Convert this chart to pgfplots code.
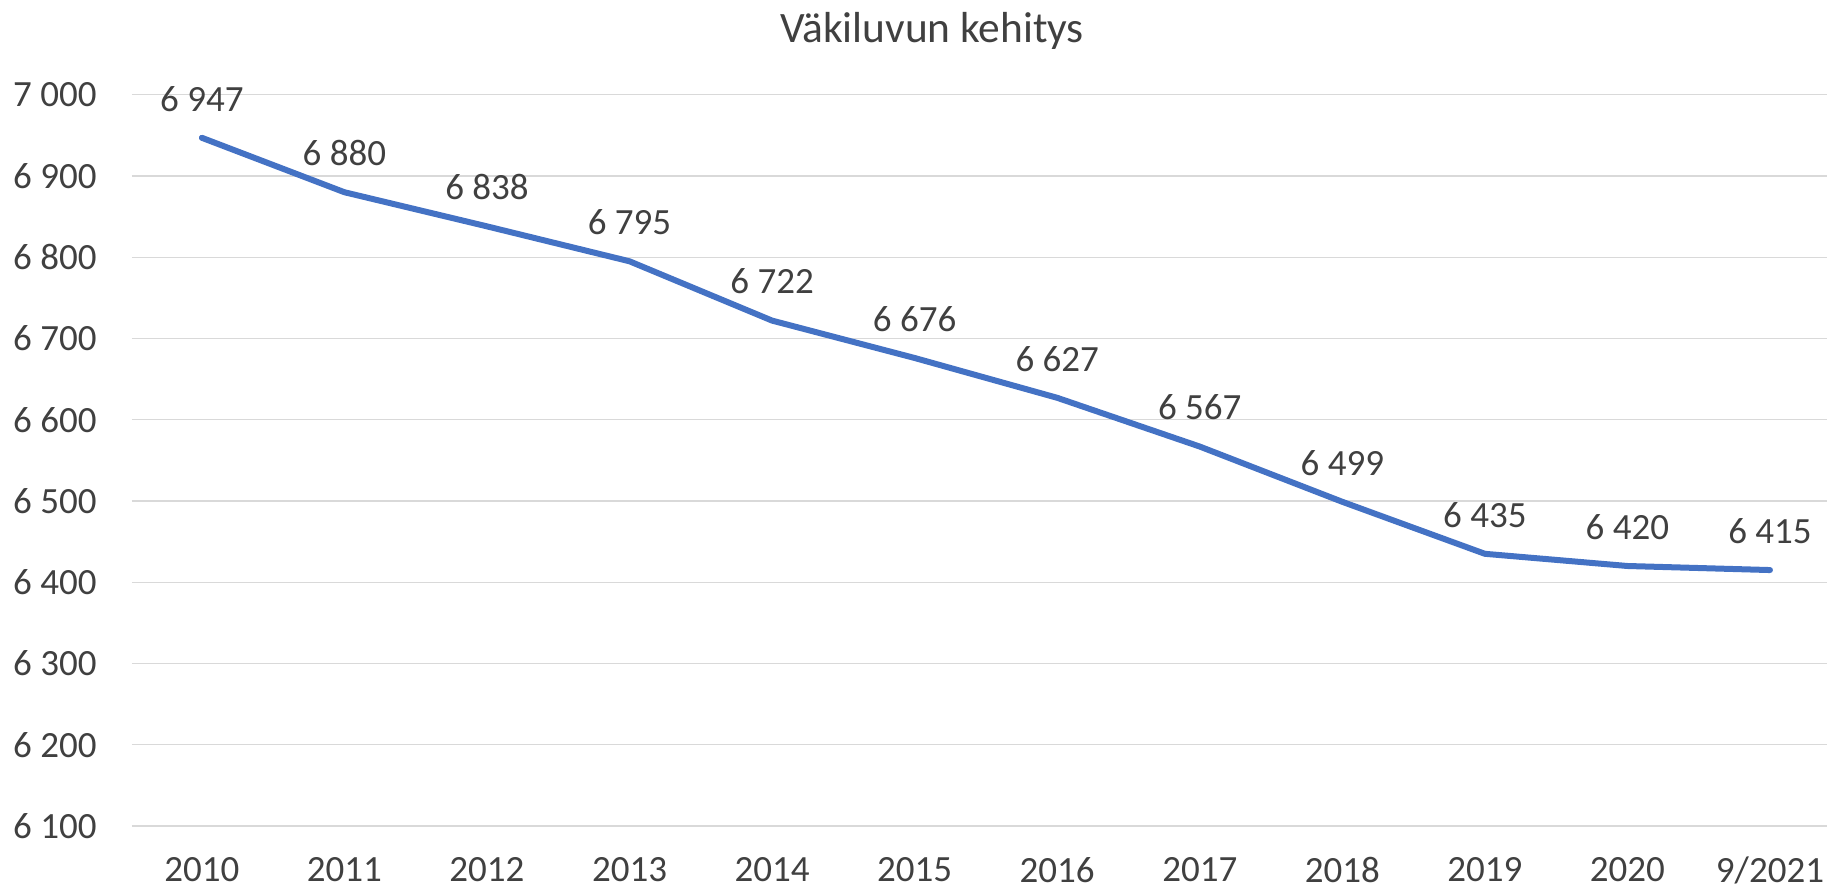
\documentclass[border=0pt]{standalone}
\usepackage{pgfplots}
\pgfplotsset{compat=1.18}
\usepackage{fontspec}
\setmainfont{Carlito}
\definecolor{txt}{HTML}{404040}
\definecolor{gridc}{HTML}{D9D9D9}
\definecolor{line}{HTML}{4472C4}
\begin{document}
\begin{tikzpicture}[x=1pt,y=1pt]
\useasboundingbox (0,0) rectangle (913.5,445.5);
\node[anchor=base, text=txt, font=\fontsize{21.7}{26}\selectfont, inner sep=0] at (466,424) {Väkiluvun kehitys};
\begin{axis}[
  at={(66pt,32.5pt)}, anchor=south west,
  scale only axis, width=847.5pt, height=365.65pt,
  xmin=-0.49, xmax=11.40,
  ymin=6100, ymax=7000,
  axis line style={draw=none},
  xtick={0,...,11},
  xticklabels={2010,2011,2012,2013,2014,2015,2016,2017,2018,2019,2020,9/2021},
  ytick={6100,6200,6300,6400,6500,6600,6700,6800,6900,7000},
  yticklabels={6 100,6 200,6 300,6 400,6 500,6 600,6 700,6 800,6 900,7 000},
  major tick length=0pt,
  ymajorgrids, grid style={gridc, line width=0.7pt},
  xticklabel style={anchor=center, yshift=-22pt, inner sep=0, text=txt, font=\fontsize{18.5}{22}\selectfont},
  yticklabel style={anchor=east, xshift=-17.5pt, inner sep=0, text=txt, font=\fontsize{18.5}{22}\selectfont},
  nodes near coords,
  point meta=explicit symbolic,
  every node near coord/.append style={anchor=center, yshift=19.5pt, inner sep=0, text=txt, font=\fontsize{18.5}{22}\selectfont},
  clip=false,
]
\addplot[line, line width=3pt, line cap=round, line join=round, mark=none] coordinates {
  (0,6947) [6 947]
  (1,6880) [6 880]
  (2,6838) [6 838]
  (3,6795) [6 795]
  (4,6722) [6 722]
  (5,6676) [6 676]
  (6,6627) [6 627]
  (7,6567) [6 567]
  (8,6499) [6 499]
  (9,6435) [6 435]
  (10,6420) [6 420]
  (11,6415) [6 415]
};
\end{axis}
\end{tikzpicture}
\end{document}
